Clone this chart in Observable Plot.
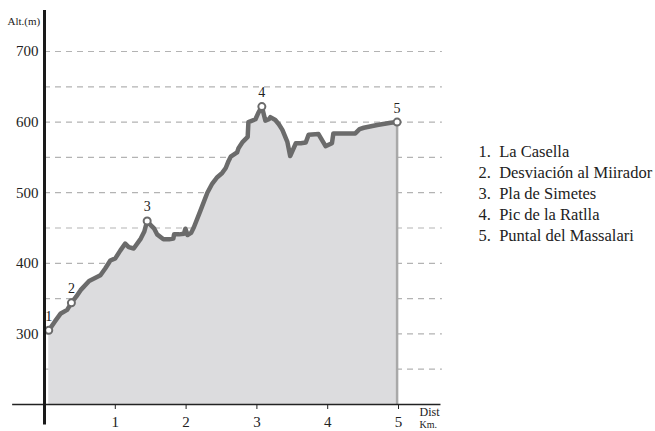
<!DOCTYPE html>
<html>
<head>
<meta charset="utf-8">
<script src="https://cdn.jsdelivr.net/npm/d3@7"></script>
<script src="https://cdn.jsdelivr.net/npm/@observablehq/plot@0.6"></script>
<style>
  html, body { margin: 0; padding: 0; background: #ffffff; }
  #chart svg { display: block; }
</style>
</head>
<body>
<div id="chart"></div>
<script>
// Elevation profile (distance km, altitude m)
const dist = [0.06, 0.15, 0.23, 0.32, 0.38, 0.45, 0.51, 0.63, 0.79, 0.86, 0.93, 1.00, 1.07, 1.14, 1.19, 1.26, 1.36, 1.41, 1.45, 1.50, 1.55, 1.59, 1.68, 1.76, 1.82, 1.83, 1.90, 1.97, 1.99, 2.02, 2.07, 2.11, 2.20, 2.30, 2.37, 2.44, 2.51, 2.56, 2.60, 2.63, 2.72, 2.74, 2.80, 2.87, 2.88, 2.98, 3.02, 3.07, 3.12, 3.17, 3.19, 3.26, 3.31, 3.36, 3.43, 3.47, 3.55, 3.62, 3.69, 3.73, 3.87, 3.97, 4.06, 4.08, 4.39, 4.45, 4.51, 4.70, 4.89, 4.98];
const alt  = [305, 318, 329, 334, 344, 353, 362, 375, 383, 393, 404, 407, 418, 428, 423, 421, 435, 445, 460, 454, 449, 441, 434, 434, 435, 441, 441, 442, 449, 440, 443, 451, 474, 500, 513, 522, 528, 535, 545, 551, 557, 563, 572, 579, 600, 604, 613, 622, 602, 604, 607, 603, 597, 589, 572, 552, 570, 570, 571, 582, 583, 566, 570, 584, 584, 590, 592, 596, 599, 600];

// Waypoints
const pointNames = ["La Casella", "Desviación al Miirador", "Pla de Simetes", "Pic de la Ratlla", "Puntal del Massalari"];
const pointDist = [0.06, 0.38, 1.45, 3.07, 4.98];
const pointAlt  = [305, 344, 460, 622, 600];

// Axes
const yTicks = [300, 400, 500, 600, 700];
const gridAlt = [250, 300, 350, 400, 450, 500, 550, 600, 650, 700];
const xTicks = [1, 2, 3, 4, 5];

const profile = dist.map((d, i) => ({d, a: alt[i]}));
const points = pointDist.map((d, i) => ({d, a: pointAlt[i], n: i + 1, name: pointNames[i]}));
const last = points[points.length - 1];
const legendText = points.map(p => `${p.n}.  ${p.name}`).join("\n");

const chart = Plot.plot({
  width: 655,
  height: 431,
  marginLeft: 44,
  marginRight: 257,
  marginTop: 51,
  marginBottom: 27,
  style: {fontFamily: "'Liberation Serif', 'Times New Roman', serif", background: "#ffffff", color: "#222"},
  x: {domain: [0, 5]},
  y: {domain: [200, 700]},
  marks: [
    Plot.ruleY(gridAlt, {x1: 0, x2: 5.62, stroke: "#b3b3b3", strokeWidth: 1.2, strokeDasharray: "6,5"}),
    Plot.areaY(profile, {x: "d", y1: 200, y2: "a", fill: "#dcdcde"}),
    Plot.ruleX([last], {x: "d", y1: 200, y2: "a", stroke: "#a9a9a9", strokeWidth: 2.5}),
    Plot.line(profile, {x: "d", y: "a", stroke: "#6b6b6b", strokeWidth: 4.5, strokeLinejoin: "round", strokeLinecap: "round"}),
    Plot.dot(points, {x: "d", y: "a", r: 3.5, fill: "white", stroke: "#6b6b6b", strokeWidth: 2}),
    Plot.text(points, {x: "d", y: "a", text: "n", dy: -14, fontSize: 14, fill: "#222"}),
    Plot.ruleY([200], {x1: -0.45, x2: 5.6, stroke: "#222", strokeWidth: 1.6}),
    Plot.ruleX([0], {y1: 171, y2: 758, stroke: "#1a1a1a", strokeWidth: 3}),
    Plot.axisY({ticks: yTicks, tickSize: 0, tickPadding: 6, fontSize: 15, label: null, tickFormat: d3.format("d")}),
    Plot.axisX({ticks: xTicks, tickSize: 5, tickPadding: 7, fontSize: 15, label: null, tickFormat: d3.format("d")}),
    Plot.text(["Alt.(m)"], {frameAnchor: "top-left", dx: -37, dy: -34, textAnchor: "start", fontSize: 11, fill: "#222"}),
    Plot.text(["Dist"], {frameAnchor: "bottom-right", dx: 21, dy: 11, textAnchor: "start", fontSize: 12, fill: "#222"}),
    Plot.text(["Km."], {frameAnchor: "bottom-right", dx: 21, dy: 23, textAnchor: "start", fontSize: 10, fill: "#222"}),
    Plot.text([legendText], {frameAnchor: "right", dx: 80, dy: -35.5, textAnchor: "start", fontSize: 16.5, lineHeight: 21 / 16.5, fill: "#222"})
  ]
});
document.getElementById("chart").appendChild(chart);
</script>
</body>
</html>
